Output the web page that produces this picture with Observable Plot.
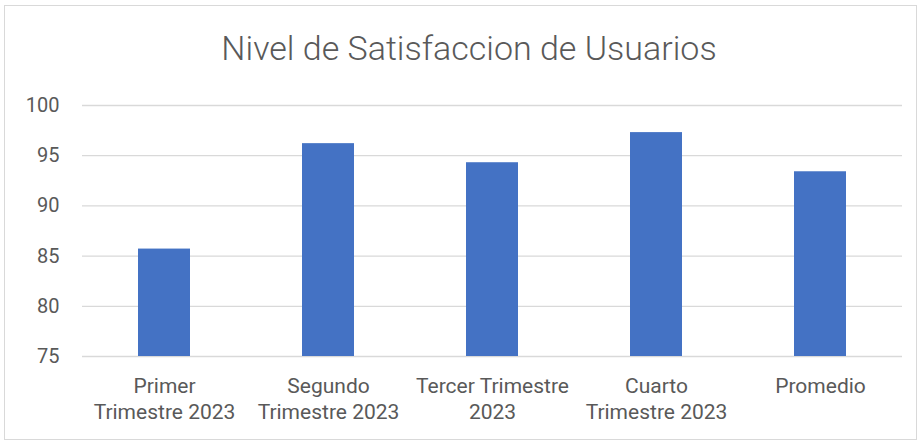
<!DOCTYPE html>
<html>
<head>
<meta charset="utf-8">
<script src="https://cdn.jsdelivr.net/npm/d3@7"></script>
<script src="https://cdn.jsdelivr.net/npm/@observablehq/plot@0.6"></script>
<style>
  html, body { margin: 0; padding: 0; background: #fff; }
  #wrap { position: relative; width: 923px; height: 447px; overflow: hidden; font-family: Roboto, "Open Sans", sans-serif; }
  #frame { position: absolute; left: 4px; top: 5px; width: 913px; height: 435px; border: 1px solid #d9d9d9; box-sizing: border-box; }
  #title { position: absolute; left: 0; top: 28px; width: 938px; text-align: center; font-size: 34px; line-height: 40px; font-weight: 300; color: #595959; }
  #chart { position: absolute; left: 0; top: 0; }
</style>
</head>
<body>
<div id="wrap">
  <div id="frame"></div>
  <div id="title">Nivel de Satisfaccion de Usuarios</div>
  <div id="chart"></div>
</div>
<script>
const categories = ["Primer Trimestre 2023", "Segundo Trimestre 2023", "Tercer Trimestre 2023", "Cuarto Trimestre 2023", "Promedio"];
const categoryLabels = ["Primer\nTrimestre 2023", "Segundo\nTrimestre 2023", "Tercer Trimestre\n2023", "Cuarto\nTrimestre 2023", "Promedio"];
const values = [85.7, 96.2, 94.3, 97.3, 93.4];
const yTicks = [75, 80, 85, 90, 95, 100];

const data = categories.map((c, i) => ({category: c, value: values[i]}));
const labelOf = new Map(categories.map((c, i) => [c, categoryLabels[i]]));

const chart = Plot.plot({
  width: 923,
  height: 447,
  marginTop: 105,
  marginBottom: 91,
  marginLeft: 82,
  marginRight: 21,
  style: {fontFamily: "Roboto, 'Open Sans', sans-serif", fontSize: "20px", color: "#595959", background: "transparent", overflow: "visible"},
  x: {domain: categories, paddingInner: 0.683, paddingOuter: 0.3415, label: null},
  y: {domain: [75, 100], ticks: yTicks, label: null},
  marks: [
    Plot.ruleY(yTicks, {stroke: "#d9d9d9", strokeWidth: 1.3}),
    Plot.barY(data, {x: "category", y1: 75, y2: "value", fill: "#4472C4"}),
    Plot.axisY({ticks: yTicks, tickSize: 0, tickPadding: 23, fontSize: 20, fill: "#595959", label: null}),
    Plot.axisX({tickSize: 0, tickPadding: 18, fontSize: 21, fill: "#595959", lineHeight: 1.24, tickFormat: d => labelOf.get(d), label: null})
  ]
});
document.getElementById("chart").appendChild(chart);
</script>
</body>
</html>
